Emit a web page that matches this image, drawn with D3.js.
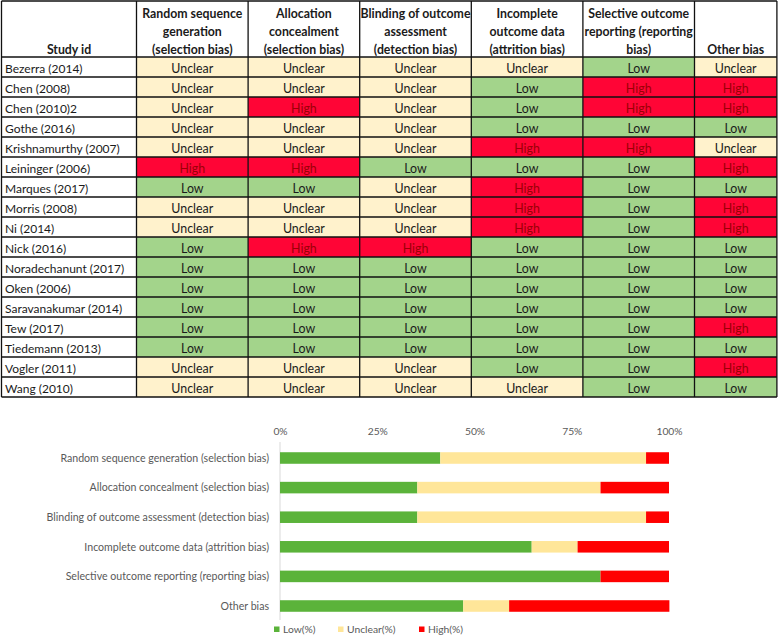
<!DOCTYPE html>
<html><head><meta charset="utf-8">
<script src="https://cdn.jsdelivr.net/npm/d3@7"></script>
<style>
html,body{margin:0;padding:0;background:#fff;}
svg{display:block;}
text{font-family:Lato,"Open Sans",sans-serif;}
</style>
</head><body>
<svg id="c" width="778" height="636"></svg>
<script>
// ---------- DATA ----------
const studies = ["Bezerra (2014)","Chen (2008)","Chen (2010)2","Gothe (2016)","Krishnamurthy (2007)","Leininger (2006)","Marques (2017)","Morris (2008)","Ni (2014)","Nick (2016)","Noradechanunt (2017)","Oken (2006)","Saravanakumar (2014)","Tew (2017)","Tiedemann (2013)","Vogler (2011)","Wang (2010)"];
const headers = [
  ["Study id"],
  ["Random sequence","generation","(selection bias)"],
  ["Allocation","concealment","(selection bias)"],
  ["Blinding of outcome","assessment","(detection bias)"],
  ["Incomplete","outcome data","(attrition bias)"],
  ["Selective outcome","reporting (reporting","bias)"],
  ["Other bias"]
];
const randomSeq   = ["Unclear","Unclear","Unclear","Unclear","Unclear","High","Low","Unclear","Unclear","Low","Low","Low","Low","Low","Low","Unclear","Unclear"];
const allocation  = ["Unclear","Unclear","High","Unclear","Unclear","High","Low","Unclear","Unclear","High","Low","Low","Low","Low","Low","Unclear","Unclear"];
const blinding    = ["Unclear","Unclear","Unclear","Unclear","Unclear","Low","Unclear","Unclear","Unclear","High","Low","Low","Low","Low","Low","Unclear","Unclear"];
const incomplete  = ["Unclear","Low","Low","Low","High","Low","High","High","High","Low","Low","Low","Low","Low","Low","Low","Unclear"];
const selective   = ["Low","High","High","Low","High","Low","Low","Low","Low","Low","Low","Low","Low","Low","Low","Low","Low"];
const otherBias   = ["Unclear","High","High","Low","Unclear","High","Low","High","High","Low","Low","Low","Low","High","Low","High","Low"];
const judgements = [randomSeq, allocation, blinding, incomplete, selective, otherBias];

const domains = ["Random sequence generation (selection bias)","Allocation concealment (selection bias)","Blinding of outcome assessment (detection bias)","Incomplete outcome data (attrition bias)","Selective outcome reporting (reporting bias)","Other bias"];
const lowPct     = [41.2, 35.3, 35.3, 64.7, 82.4, 47.1];
const unclearPct = [52.9, 47.1, 58.8, 11.8, 0, 11.8];
const highPct    = [5.9, 17.6, 5.9, 23.5, 17.6, 41.2];
const xTicks = [0, 25, 50, 75, 100];
const seriesNames = ["Low(%)","Unclear(%)","High(%)"];

// ---------- LAYOUT / STYLE ----------
const svg = d3.select("#c");
const cellFill = {Low:"#a3d48b", Unclear:"#fff2cc", High:"#ff0536"};
const cellText = {Low:"#1b1b1b", Unclear:"#1b1b1b", High:"#9c0006"};
const colWidths = [135, 111.6, 111.6, 111.6, 111.6, 111.6, 82.4];
const tableLeft = 1.5, tableTop = 1, headerBottom = 57, tableBottom = 397;
const colEdges = colWidths.reduce((a,w)=>{a.push(a[a.length-1]+w);return a;},[tableLeft]);

const yRow = d3.scaleBand().domain(studies).range([headerBottom, tableBottom]);

const table = svg.append("g");
// cells
judgements.forEach((col, ci) => {
  const x0 = colEdges[ci+1], x1 = colEdges[ci+2];
  const g = table.append("g");
  g.selectAll("rect").data(col).join("rect")
    .attr("x", x0).attr("y", (d,i)=>yRow(studies[i]))
    .attr("width", x1-x0).attr("height", yRow.bandwidth())
    .attr("fill", d=>cellFill[d]);
  g.selectAll("text").data(col).join("text")
    .attr("x", (x0+x1)/2).attr("y", (d,i)=>yRow(studies[i]) + yRow.bandwidth()/2 + 5.6)
    .attr("text-anchor","middle").attr("font-size", 12.4)
    .attr("fill", d=>cellText[d]).text(d=>d);
});
// study labels
table.append("g").selectAll("text").data(studies).join("text")
  .attr("x", tableLeft+3.5).attr("y", d=>yRow(d)+yRow.bandwidth()/2+5.6)
  .attr("font-size", 12).attr("fill","#1b1b1b").text(d=>d);
// headers
headers.forEach((lines, ci) => {
  const cx = (colEdges[ci] + colEdges[ci+1])/2;
  const n = lines.length;
  table.append("g").selectAll("text").data(lines).join("text")
    .attr("x", cx).attr("y", (d,i)=> 54 - (n-1-i)*17.8)
    .attr("text-anchor","middle").attr("font-size", 12.3).attr("font-weight","bold")
    .attr("fill","#1b1b1b").text(d=>d);
});
// grid lines
const gl = table.append("g").attr("stroke","#111").attr("stroke-width",1.3);
colEdges.forEach(x => gl.append("line").attr("x1",x).attr("x2",x).attr("y1",tableTop).attr("y2",tableBottom));
[tableTop, headerBottom, ...studies.map(s=>yRow(s)+yRow.bandwidth())].forEach(y =>
  gl.append("line").attr("x1",tableLeft).attr("x2",colEdges[colEdges.length-1]).attr("y1",y).attr("y2",y));

// ---------- BAR CHART ----------
const x = d3.scaleLinear().domain([0,100]).range([280, 669]);
const yBar = d3.scaleBand().domain(domains).range([443.2, 620.8]).paddingInner(0.61).paddingOuter(0.305);
const barColors = ["#5bb33a", "#ffe699", "#ff0000"];
const stacks = domains.map((d,i)=>({d, vals:[lowPct[i], unclearPct[i], highPct[i]]}));

const chart = svg.append("g");
// axis line
chart.append("line").attr("x1", x(0)).attr("x2", x(0)).attr("y1", 442).attr("y2", 620)
  .attr("stroke","#d9d9d9").attr("stroke-width",1);
stacks.forEach(s => {
  let acc = 0;
  s.vals.forEach((v, k) => {
    chart.append("rect").attr("x", x(acc)).attr("y", yBar(s.d))
      .attr("width", x(acc+v)-x(acc)).attr("height", yBar.bandwidth())
      .attr("fill", barColors[k]);
    acc += v;
  });
});
// top axis
const axis = chart.append("g").attr("transform","translate(0,435)")
  .call(d3.axisTop(x).tickValues(xTicks).tickFormat(d=>d+"%").tickSize(0).tickPadding(0));
axis.select(".domain").remove();
axis.selectAll("text").attr("font-family","Lato,'Open Sans',sans-serif").attr("font-size",10.3).attr("fill","#595959");
// category labels
chart.append("g").selectAll("text").data(domains).join("text")
  .attr("x", 269).attr("y", d=>yBar(d)+yBar.bandwidth()/2+3.8)
  .attr("text-anchor","end").attr("font-size",10.6).attr("fill","#595959").text(d=>d);
// legend
const legendX = [274, 338, 419];
const lg = chart.append("g");
seriesNames.forEach((n,k)=>{
  lg.append("rect").attr("x", legendX[k]).attr("y", 626.5).attr("width",5.5).attr("height",5.5).attr("fill",barColors[k]);
  lg.append("text").attr("x", legendX[k]+9).attr("y", 633).attr("font-size",10.3).attr("fill","#595959").text(n);
});
</script>
</body></html>
